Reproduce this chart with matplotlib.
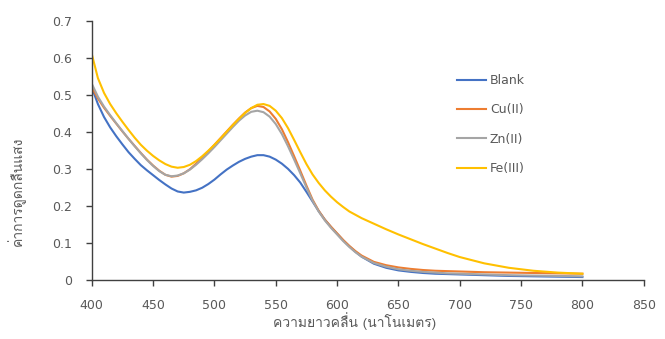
import matplotlib
matplotlib.use("Agg")
import matplotlib.pyplot as plt
from matplotlib import font_manager
from matplotlib.ft2font import FT2Font

# UV-Vis spectra (absorbance vs wavelength, nm)
wavelength = [400, 405, 410, 415, 420, 425, 430, 435, 440, 445,
              450, 455, 460, 465, 470, 475, 480, 485, 490, 495,
              500, 505, 510, 515, 520, 525, 530, 535, 540, 545,
              550, 555, 560, 565, 570, 575, 580, 585, 590, 595,
              600, 605, 610, 615, 620, 630, 640, 650, 660, 670,
              680, 690, 700, 720, 740, 760, 780, 800]

blank = [0.52, 0.475, 0.44, 0.412, 0.388, 0.366, 0.345, 0.327, 0.31, 0.296,
         0.283, 0.27, 0.258, 0.247, 0.239, 0.236, 0.238, 0.242, 0.249, 0.259,
         0.271, 0.285, 0.298, 0.309, 0.319, 0.327, 0.333, 0.337, 0.337, 0.333,
         0.325, 0.314, 0.300, 0.283, 0.263, 0.238, 0.212, 0.186, 0.163, 0.143,
         0.125, 0.107, 0.091, 0.076, 0.063, 0.044, 0.033, 0.026, 0.022, 0.019,
         0.017, 0.016, 0.015, 0.013, 0.011, 0.010, 0.009, 0.008]

cu = [0.52, 0.49, 0.465, 0.443, 0.422, 0.401, 0.381, 0.362, 0.343, 0.325,
      0.309, 0.295, 0.284, 0.279, 0.281, 0.288, 0.299, 0.314, 0.33, 0.347,
      0.365, 0.383, 0.401, 0.419, 0.436, 0.452, 0.464, 0.47, 0.467, 0.455,
      0.435, 0.407, 0.372, 0.334, 0.295, 0.255, 0.217, 0.187, 0.163, 0.144,
      0.126, 0.108, 0.092, 0.078, 0.066, 0.049, 0.040, 0.034, 0.030, 0.027,
      0.025, 0.024, 0.023, 0.021, 0.020, 0.019, 0.018, 0.017]

zn = [0.53, 0.495, 0.468, 0.445, 0.423, 0.402, 0.381, 0.361, 0.342, 0.324,
      0.308, 0.294, 0.284, 0.28, 0.282, 0.288, 0.298, 0.311, 0.326, 0.342,
      0.359, 0.377, 0.395, 0.413, 0.43, 0.444, 0.454, 0.457, 0.453, 0.441,
      0.421, 0.394, 0.361, 0.325, 0.288, 0.25, 0.214, 0.185, 0.161, 0.141,
      0.123, 0.105, 0.089, 0.075, 0.063, 0.046, 0.036, 0.029, 0.025, 0.022,
      0.020, 0.018, 0.017, 0.015, 0.013, 0.012, 0.011, 0.010]

fe = [0.61, 0.545, 0.505, 0.475, 0.45, 0.427, 0.405, 0.384, 0.365, 0.349,
      0.335, 0.323, 0.313, 0.306, 0.303, 0.305, 0.311, 0.321, 0.334, 0.349,
      0.365, 0.382, 0.4, 0.418, 0.435, 0.451, 0.464, 0.473, 0.475, 0.47,
      0.457, 0.437, 0.41, 0.378, 0.345, 0.313, 0.285, 0.262, 0.242, 0.225,
      0.21, 0.197, 0.185, 0.176, 0.167, 0.152, 0.137, 0.123, 0.11, 0.097,
      0.085, 0.073, 0.062, 0.045, 0.033, 0.025, 0.02, 0.017]

series_names = ["Blank", "Cu(II)", "Zn(II)", "Fe(III)"]
series_colors = ["#4472C4", "#ED7D31", "#A5A5A5", "#FFC000"]

x_ticks = [400, 450, 500, 550, 600, 650, 700, 750, 800, 850]
y_ticks = [0, 0.1, 0.2, 0.3, 0.4, 0.5, 0.6, 0.7]
y_tick_labels = ["0", "0.1", "0.2", "0.3", "0.4", "0.5", "0.6", "0.7"]

x_label = "ความยาวคลื่น (นาโนเมตร)"
y_label = "ค่าการดูดกลืนแสง"

TEXT_GRAY = "#595959"
AXIS_GRAY = "#404040"


def _thai_font():
    """Return the name of an installed font that has Thai glyphs, if any."""
    for f in font_manager.fontManager.ttflist:
        try:
            if 0x0E04 in FT2Font(f.fname).get_charmap():
                return f.name
        except Exception:
            continue
    return None


thai = _thai_font()
label_family = [thai, "DejaVu Sans"] if thai else ["DejaVu Sans"]

fig = plt.figure(figsize=(6.65, 3.39), dpi=100)
fig.patch.set_facecolor("white")
ax = fig.add_axes([0.138, 0.174, 0.830, 0.765])

for vals, name, color in zip([blank, cu, zn, fe], series_names, series_colors):
    ax.plot(wavelength, vals, color=color, linewidth=1.5, label=name,
            solid_joinstyle="round")

ax.set_xlim(400, 850)
ax.set_ylim(0, 0.7)
ax.set_xticks(x_ticks)
ax.set_yticks(y_ticks)
ax.set_yticklabels(y_tick_labels)
ax.tick_params(axis="both", direction="out", length=4, width=1,
               color=AXIS_GRAY, labelcolor=TEXT_GRAY, labelsize=9)
ax.tick_params(axis="x", pad=10)
ax.tick_params(axis="y", pad=10.5)

for side in ["top", "right"]:
    ax.spines[side].set_visible(False)
for side in ["left", "bottom"]:
    ax.spines[side].set_color(AXIS_GRAY)
    ax.spines[side].set_linewidth(1)

ax.set_xlabel(x_label, fontsize=10, color=TEXT_GRAY, family=label_family)
ax.xaxis.set_label_coords(0.476, -0.124)
ax.set_ylabel(y_label, fontsize=10, color=TEXT_GRAY, family=label_family)
ax.yaxis.set_label_coords(-0.12, 0.344)

ax.legend(loc="upper left", bbox_to_anchor=(0.642, 0.837), frameon=False,
          fontsize=9, labelcolor=TEXT_GRAY, handlelength=2.3,
          handletextpad=0.3, labelspacing=1.3)

fig.savefig("out.png", dpi=100, facecolor="white")
plt.close(fig)
